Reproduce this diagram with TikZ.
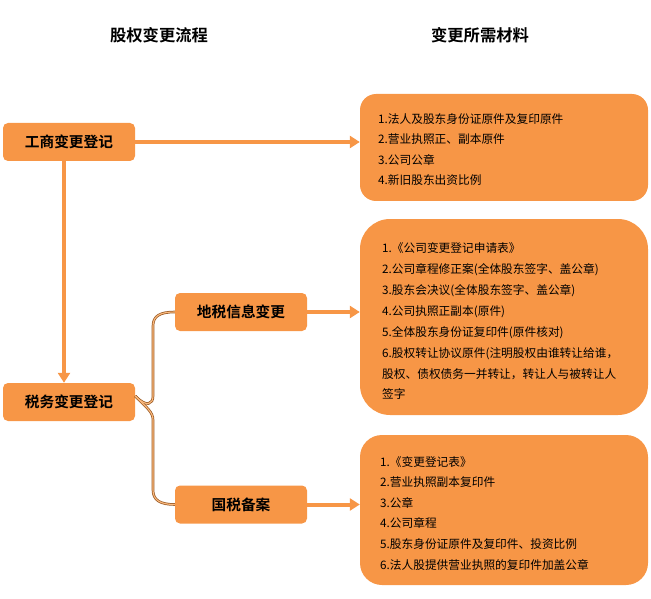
\documentclass[tikz,border=0pt]{standalone}
\usepackage{fontspec}
\setmainfont{Noto Sans CJK SC}
\newfontfamily\cjkb{Noto Sans CJK SC Bold}
\usetikzlibrary{arrows.meta}
\definecolor{org}{HTML}{F79646}
\definecolor{brn}{HTML}{9A5B25}
\definecolor{lorg}{HTML}{FBB97E}
\tikzset{
  stagebox/.style={draw=none,fill=org,rounded corners=5pt,minimum width=132pt,minimum height=38pt,inner sep=0pt,font=\cjkb\fontsize{14.7}{16}\selectfont},
  matbox/.style={draw=none,fill=org,minimum width=288pt,inner sep=0pt},
  mattext/.style={anchor=north west,inner sep=0pt,align=left,font=\fontsize{11.7}{20.6}\selectfont},
  header/.style={font=\cjkb\fontsize{16.3}{18}\selectfont},
  conn/.style={draw=org,line width=4pt,-{Triangle[length=10pt,width=12pt]}},
}
\begin{document}
\begin{tikzpicture}[x=1pt,y=-1pt]
\useasboundingbox (0,0) rectangle (651,599);
% headers
\node[header] (h1) at (159,35) {股权变更流程};
\node[header] (h2) at (480,35) {变更所需材料};
% stage boxes
\node[stagebox] (b1) at (69,142) {工商变更登记};
\node[stagebox] (b2) at (69,402) {税务变更登记};
\node[stagebox] (b3) at (241,312) {地税信息变更};
\node[stagebox] (b4) at (241,504.5) {国税备案};
% material boxes
\node[matbox,minimum height=107pt,rounded corners=16pt] (mA) at (504,147.5) {};
\node[matbox,minimum height=196pt,rounded corners=30pt] (mB) at (504,317) {};
\node[matbox,minimum height=150pt,rounded corners=22pt] (mC) at (504,510) {};
% material texts
\node[mattext] (tA) at (378,113) {1.法人及股东身份证原件及复印原件\\2.营业执照正、副本原件\\3.公司公章\\4.新旧股东出资比例};
\node[mattext,font=\fontsize{11.7}{20.9}\selectfont] (tB) at (382,242.5) {1.《公司变更登记申请表》\\2.公司章程修正案(全体股东签字、盖公章)\\3.股东会决议(全体股东签字、盖公章)\\4.公司执照正副本(原件)\\5.全体股东身份证复印件(原件核对)\\6.股权转让协议原件(注明股权由谁转让给谁，\\股权、债权债务一并转让，转让人与被转让人\\签字};
\node[mattext] (tC) at (380,456) {1.《变更登记表》\\2.营业执照副本复印件\\3.公章\\4.公司章程\\5.股东身份证原件及复印件、投资比例\\6.法人股提供营业执照的复印件加盖公章};
% connectors
\draw[conn] (b1.east) -- (b1.east -| mA.west);
\draw[conn] ([xshift=-5pt]b1.south) -- ([xshift=-5pt]b2.north);
\draw[conn] (b3.east) -- (b3.east -| mB.west);
\draw[conn] (b4.east) -- (b4.east -| mC.west);
% brace
\coordinate (bt) at ([yshift=6pt]b2.east);
\foreach \c/\w in {brn/2.6pt,lorg/1.1pt}{
\draw[\c,line width=\w] (bt) .. controls (147,408) and (153,404) .. (153,396) -- (153,326)
  .. controls (153,316) and (160,312) .. (b3.west);
\draw[\c,line width=\w] (bt) .. controls (147,408) and (153,412) .. (153,420) -- (153,490)
  .. controls (153,500) and (160,504.5) .. (b4.west);
}
\end{tikzpicture}
\end{document}
